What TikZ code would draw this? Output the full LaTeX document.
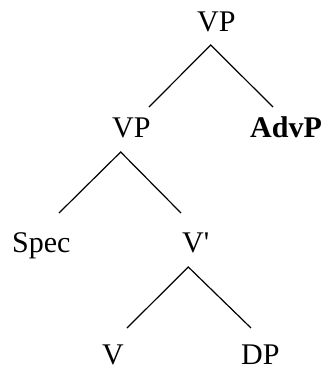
\documentclass[tikz,border=0pt]{standalone}
\usepackage{fontspec}
\setmainfont{Liberation Serif}
\begin{document}
\begin{tikzpicture}[x=1bp,y=-1bp,
  lab/.style={anchor=base west,inner sep=0pt,font=\fontsize{30bp}{36bp}\selectfont},
  edge/.style={line width=1.2bp,line cap=butt}]
\useasboundingbox (0,0) rectangle (326,369);
% nodes
\node[lab] (vp1) at (197,31) {VP};
\node[lab] (vp2) at (112,137) {VP};
\node[lab] (advp) at (250,137) {\bfseries AdvP};
\node[lab] (spec) at (12,252) {Spec};
\node[lab] (vbar) at (182,252) {V\textquotesingle};
\node[lab] (v) at (102,364) {V};
\node[lab] (dp) at (241,364) {DP};
% connector endpoints
\coordinate (vp1b) at (210.7,45);
\coordinate (vp2t) at (149,107);
\coordinate (advpt) at (273,107);
\coordinate (vp2b) at (120.7,152);
\coordinate (spect) at (59,213);
\coordinate (vbart) at (181,213);
\coordinate (vbarb) at (188.3,267);
\coordinate (vt) at (127,328);
\coordinate (dpt) at (251,328);
% connectors
\draw[edge] (vp2t) -- (vp1b) -- (advpt);
\draw[edge] (spect) -- (vp2b) -- (vbart);
\draw[edge] (vt) -- (vbarb) -- (dpt);
\end{tikzpicture}
\end{document}
